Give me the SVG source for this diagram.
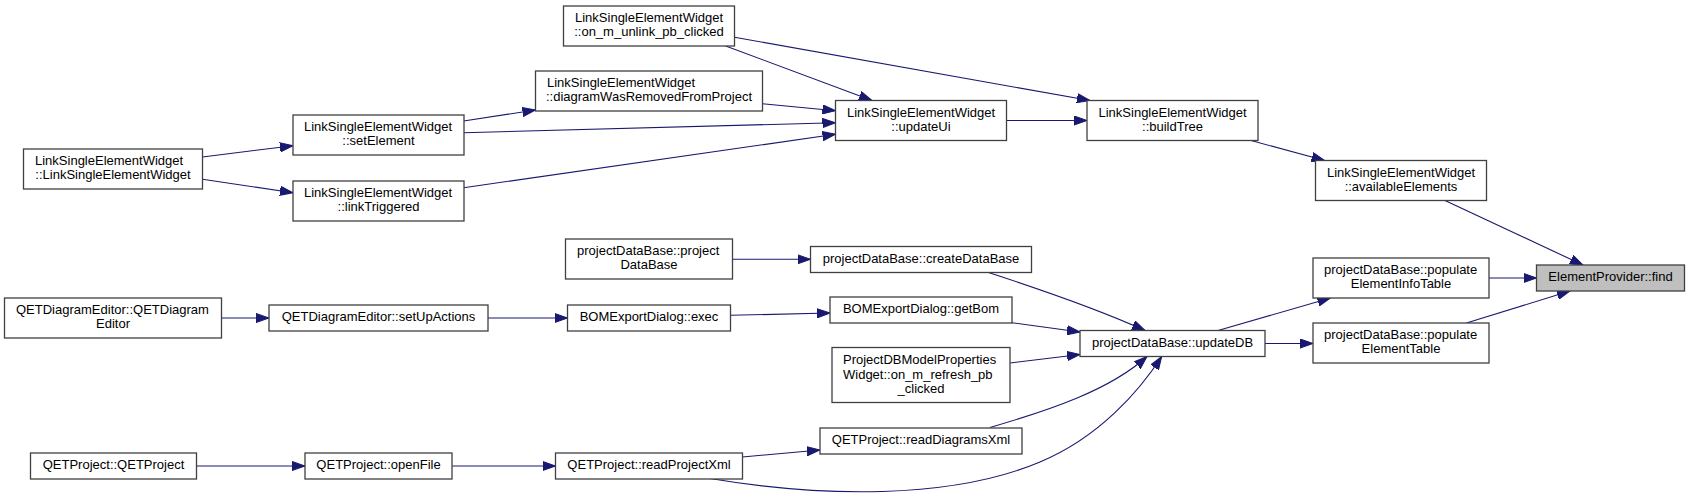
<svg xmlns="http://www.w3.org/2000/svg" width="1689" height="498" viewBox="0 0 1689 498">
<style>
.n rect{fill:#ffffff;stroke:#404040;stroke-width:1.3}
.n text{font-family:"Liberation Sans",Arial,Helvetica,sans-serif;font-size:13px;fill:#000000}
.m{text-anchor:middle}
.s{text-anchor:start}
#edges path{fill:none;stroke:#191970;stroke-width:1.1;marker-end:url(#ah)}
</style>
<defs>
<marker id="ah" markerWidth="14" markerHeight="10" refX="13" refY="5" orient="auto" markerUnits="userSpaceOnUse">
<path d="M0,0.4 L13,5 L0,9.6 Z" fill="#191970" stroke="#191970" stroke-width="1"/>
</marker>
</defs>
<rect width="1689" height="498" fill="#ffffff"/>
<g id="edges">
<path d="M202.5,157 L293,145.7"/>
<path d="M202.5,179.3 L293,192.7"/>
<path d="M463.6,121 L535.5,110"/>
<path d="M463.6,132.7 L835.5,122.7"/>
<path d="M463.6,187.7 L835.5,134.3"/>
<path d="M762.5,103.7 L835.5,110.7"/>
<path d="M725.7,46 L872,100.5"/>
<path d="M734.6,37.3 L1090,100.5"/>
<path d="M1006.5,120.5 L1087,120.5"/>
<path d="M1251,140.5 L1324.7,160.5"/>
<path d="M1445,200.5 L1583,265"/>
<path d="M1489,278 L1536.5,278"/>
<path d="M1466.4,323 L1570,291"/>
<path d="M1218,330.5 L1330.5,298"/>
<path d="M1265,343.5 L1313,343.5"/>
<path d="M987,272 C1030,286 1100,310 1145,330.5"/>
<path d="M1011.7,322.7 L1080,332"/>
<path d="M1010.3,363 L1080,354.5"/>
<path d="M990,427.5 C1050,410 1110,390 1147,356.5"/>
<path d="M710,478.5 C820,497 950,500 1040,462 C1100,437 1140,390 1161.7,356.5"/>
<path d="M221.3,318 L269,318"/>
<path d="M488,318 L567.5,318"/>
<path d="M730.7,315.3 L830,313"/>
<path d="M732.7,259.3 L810.5,259.3"/>
<path d="M196.3,466 L305,466"/>
<path d="M452.3,466 L555.5,466"/>
<path d="M742.3,457 L820,450"/>
</g>
<g id="n1" class="n"><rect x="23.5" y="149" width="179" height="40"/><text class="s" x="35" y="165">LinkSingleElementWidget</text><text class="m" x="113" y="179">::LinkSingleElementWidget</text></g>
<g id="n2" class="n"><rect x="293" y="115" width="171" height="40"/><text class="s" x="304" y="131">LinkSingleElementWidget</text><text class="m" x="378.5" y="145">::setElement</text></g>
<g id="n3" class="n"><rect x="293" y="181" width="171" height="40"/><text class="s" x="304" y="197">LinkSingleElementWidget</text><text class="m" x="378.5" y="211">::linkTriggered</text></g>
<g id="n4" class="n"><rect x="563.5" y="6" width="171" height="40"/><text class="s" x="575" y="22">LinkSingleElementWidget</text><text class="m" x="649" y="36">::on_m_unlink_pb_clicked</text></g>
<g id="n5" class="n"><rect x="535.5" y="71" width="227" height="40"/><text class="s" x="547" y="87">LinkSingleElementWidget</text><text class="m" x="649" y="101">::diagramWasRemovedFromProject</text></g>
<g id="n6" class="n"><rect x="835.5" y="100.5" width="171" height="40"/><text class="s" x="847" y="116.5">LinkSingleElementWidget</text><text class="m" x="921" y="130.5">::updateUi</text></g>
<g id="n7" class="n"><rect x="1087" y="100.5" width="171" height="40"/><text class="s" x="1098.5" y="116.5">LinkSingleElementWidget</text><text class="m" x="1172.5" y="130.5">::buildTree</text></g>
<g id="n8" class="n"><rect x="1315.5" y="160.5" width="171" height="40"/><text class="s" x="1327" y="176.5">LinkSingleElementWidget</text><text class="m" x="1401" y="190.5">::availableElements</text></g>
<g id="n9" class="n"><rect x="1536.5" y="265" width="148" height="26" style="fill:#bfbfbf"/><text class="m" x="1610.5" y="281">ElementProvider::find</text></g>
<g id="n10" class="n"><rect x="1313" y="258" width="176" height="40"/><text class="s" x="1324" y="274">projectDataBase::populate</text><text class="m" x="1401" y="288">ElementInfoTable</text></g>
<g id="n11" class="n"><rect x="1313" y="323" width="176" height="40"/><text class="s" x="1324" y="339">projectDataBase::populate</text><text class="m" x="1401" y="353">ElementTable</text></g>
<g id="n12" class="n"><rect x="1080" y="330.5" width="185" height="26"/><text class="m" x="1172.5" y="346.5">projectDataBase::updateDB</text></g>
<g id="n13" class="n"><rect x="810.5" y="246.5" width="221" height="26"/><text class="m" x="921" y="262.5">projectDataBase::createDataBase</text></g>
<g id="n14" class="n"><rect x="565.5" y="239" width="167" height="40"/><text class="s" x="577" y="255">projectDataBase::project</text><text class="m" x="649" y="269">DataBase</text></g>
<g id="n15" class="n"><rect x="830" y="297" width="182" height="26"/><text class="m" x="921" y="313">BOMExportDialog::getBom</text></g>
<g id="n16" class="n"><rect x="567.5" y="305" width="163" height="26"/><text class="m" x="649" y="321">BOMExportDialog::exec</text></g>
<g id="n17" class="n"><rect x="269" y="305" width="219" height="26"/><text class="m" x="378.5" y="321">QETDiagramEditor::setUpActions</text></g>
<g id="n18" class="n"><rect x="4.5" y="298" width="217" height="40"/><text class="s" x="16" y="314">QETDiagramEditor::QETDiagram</text><text class="m" x="113" y="328">Editor</text></g>
<g id="n19" class="n"><rect x="832" y="347.5" width="178" height="55"/><text class="s" x="843" y="364">ProjectDBModelProperties</text><text class="s" x="843" y="378.5">Widget::on_m_refresh_pb</text><text class="m" x="921" y="393">_clicked</text></g>
<g id="n20" class="n"><rect x="820" y="428" width="202" height="26"/><text class="m" x="921" y="444">QETProject::readDiagramsXml</text></g>
<g id="n21" class="n"><rect x="555.5" y="453" width="187" height="26"/><text class="m" x="649" y="469">QETProject::readProjectXml</text></g>
<g id="n22" class="n"><rect x="305" y="453" width="147" height="26"/><text class="m" x="378.5" y="469">QETProject::openFile</text></g>
<g id="n23" class="n"><rect x="30.5" y="453" width="166" height="26"/><text class="m" x="113.5" y="469">QETProject::QETProject</text></g>
</svg>
